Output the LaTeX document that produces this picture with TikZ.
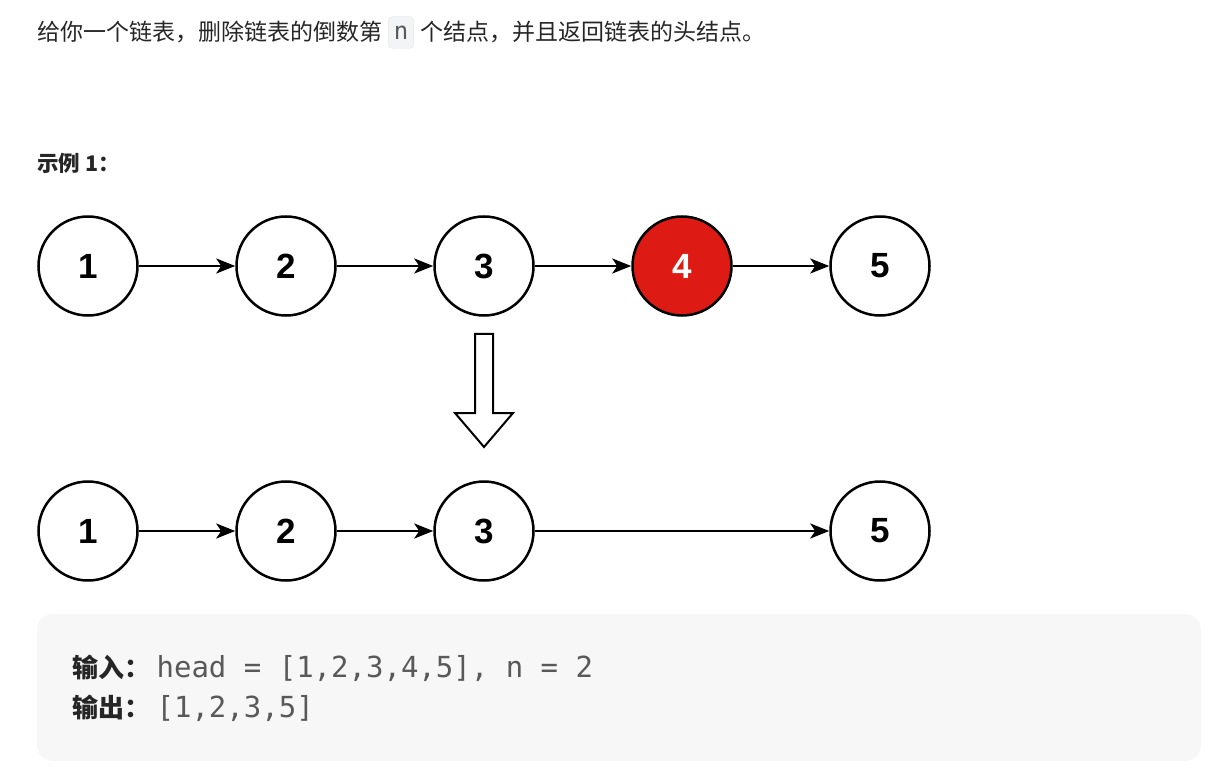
\documentclass[tikz,border=0pt]{standalone}
\usepackage{fontspec}
\setmainfont{Noto Sans CJK SC}
\newfontfamily\numfont{Liberation Sans}
\newfontfamily\codefont{DejaVu Sans Mono}
\usetikzlibrary{arrows.meta, positioning}

\definecolor{delred}{RGB}{221,26,19}
\definecolor{textgray}{RGB}{38,38,38}
\definecolor{codegray}{RGB}{89,89,89}
\definecolor{boxgray}{RGB}{247,247,247}
\definecolor{codeframe}{RGB}{228,228,228}
\definecolor{codefill}{RGB}{243,244,245}

\begin{document}
\begin{tikzpicture}[
    x=1pt, y=-1pt,
    node distance=96.5pt,
    listnode/.style={circle, draw=black, line width=2.5pt, fill=white, minimum size=99pt,
        inner sep=0pt, font=\numfont\bfseries\fontsize{35}{35}\selectfont},
    delnode/.style={listnode, fill=delred, text=white},
    link/.style={-{Stealth[length=19pt, width=15pt, inset=5pt]}, line width=2.6pt},
    hollow/.style={draw=black, line width=2pt, fill=white, line join=miter},
    plain/.style={inner sep=0pt, text=textgray, anchor=base west}
]

% Canvas
\useasboundingbox (0,0) rectangle (1223,775);

% Problem statement
\node[plain, font=\fontsize{23}{28}\selectfont] (intro) at (37,41) {给你一个链表，删除链表的倒数第};
\node[draw=codeframe, fill=codefill, rounded corners=4pt, minimum width=25pt, minimum height=32pt,
    inner sep=0pt, text=codegray, font=\codefont\fontsize{24}{24}\selectfont, right=6pt of intro] (ncode) {n};
\node[plain, font=\fontsize{23}{28}\selectfont, right=6pt of ncode] (outro) {个结点，并且返回链表的头结点。};

% Example title
\node[plain, font=\bfseries\fontsize{21.5}{24}\selectfont] (example) at (37,172) {示例 1：};

% List before removal
\node[listnode] (a1) at (88,266) {1};
\node[listnode, right=of a1] (a2) {2};
\node[listnode, right=of a2] (a3) {3};
\node[delnode, right=of a3] (a4) {4};
\node[listnode, right=of a4] (a5) {5};

\draw[link] (a1) -- (a2);
\draw[link] (a2) -- (a3);
\draw[link] (a3) -- (a4);
\draw[link] (a4) -- (a5);

% Hollow arrow
\draw[hollow] (475,334) -- (493,334) -- (493,413) -- (513,413) -- (484,447)
    -- (455,413) -- (475,413) -- cycle;

% List after removal
\node[listnode, below=163.5pt of a1] (b1) {1};
\node[listnode, right=of b1] (b2) {2};
\node[listnode, right=of b2] (b3) {3};
\node[listnode, right=294.5pt of b3] (b5) {5};

\draw[link] (b1) -- (b2);
\draw[link] (b2) -- (b3);
\draw[link] (b3) -- (b5);

% Input / output box
\fill[boxgray, rounded corners=16pt] (37,614) rectangle (1201,761);
\node[plain, font=\bfseries\fontsize{26}{30}\selectfont] (inlabel) at (72,677) {输入：};
\node[plain, text=codegray, font=\codefont\fontsize{29}{30}\selectfont,
    right=6pt of inlabel.base east, anchor=base west] (intext) {head = [1,2,3,4,5], n = 2};
\node[plain, font=\bfseries\fontsize{26}{30}\selectfont] (outlabel) at (72,717) {输出：};
\node[plain, text=codegray, font=\codefont\fontsize{29}{30}\selectfont,
    right=6pt of outlabel.base east, anchor=base west] (outtext) {[1,2,3,5]};

\end{tikzpicture}
\end{document}
